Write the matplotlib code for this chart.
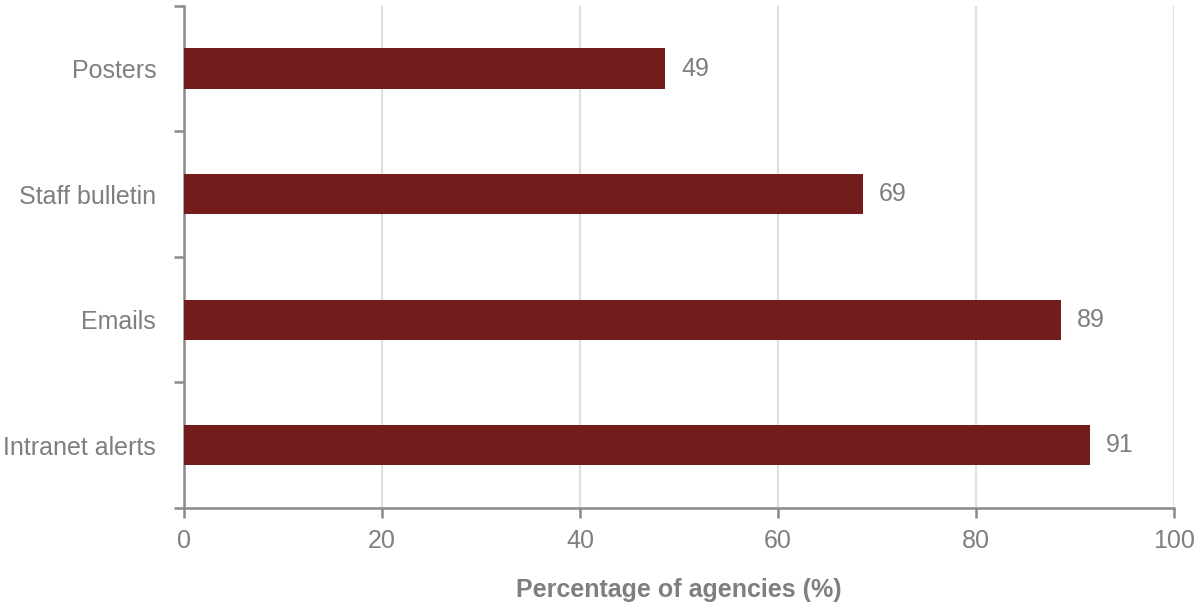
import matplotlib.pyplot as plt
import numpy as np

# Data
categories = ['Posters', 'Staff bulletin', 'Emails', 'Intranet alerts']
values = [48.6, 68.6, 88.6, 91.5]
labels = ['49', '69', '89', '91']

plt.rcParams['font.family'] = ['Liberation Sans', 'DejaVu Sans']

bar_color = '#721c1c'
text_color = '#7f7f7f'
spine_color = '#8a8a8a'

fig = plt.figure(figsize=(11.96, 6.06), dpi=100)
ax = fig.add_axes([0.1538, 0.1617, 0.9816 - 0.1538, 0.9905 - 0.1617])

y = np.arange(len(categories))
ax.barh(y, values, height=0.32, color=bar_color, zorder=3)

for yi, v, lab in zip(y, values, labels):
    ax.text(v + 1.6, yi, lab, va='center', ha='left', fontsize=18, color=text_color)

ax.set_xlim(0, 100)
ax.set_ylim(3.5, -0.5)
ax.set_xticks([0, 20, 40, 60, 80, 100])
ax.set_yticks(y)
ax.set_yticklabels(categories)
ax.set_yticks(np.arange(-0.5, len(categories)), minor=True)

ax.tick_params(axis='y', which='major', length=0, pad=20, labelsize=18, labelcolor=text_color)
ax.tick_params(axis='y', which='minor', length=7, width=1.8, color=spine_color)
ax.tick_params(axis='x', length=7, width=1.8, color=spine_color, pad=8,
               labelsize=18, labelcolor=text_color)

ax.grid(axis='x', color='#e0e0e0', linewidth=1.6, zorder=0)
for s in ['top', 'right']:
    ax.spines[s].set_visible(False)
for s in ['left', 'bottom']:
    ax.spines[s].set_color(spine_color)
    ax.spines[s].set_linewidth(1.8)

ax.set_xlabel('Percentage of agencies (%)', fontsize=18, fontweight='bold',
              color=text_color, labelpad=18)

fig.savefig('out.png', dpi=100)
